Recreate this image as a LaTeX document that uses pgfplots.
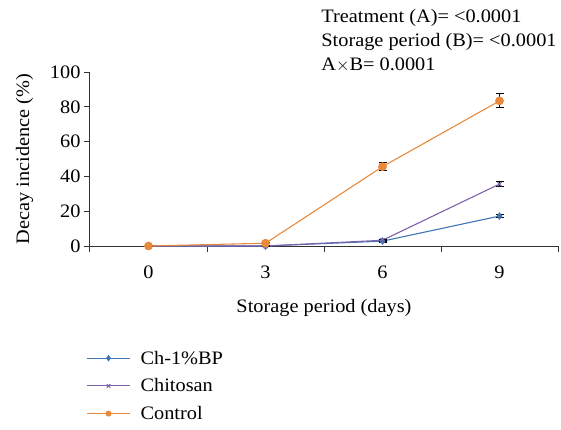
\documentclass[border=0pt]{standalone}
\usepackage{pgfplots}
\pgfplotsset{compat=1.18}
\usepackage{fontspec}
\setmainfont{Liberation Serif}[FakeStretch=1.07]
\definecolor{cblue}{HTML}{3F77B5}
\definecolor{cpurple}{HTML}{7E62A9}
\definecolor{corange}{HTML}{E8893C}
\newcommand\bigfont{\fontsize{19}{22}\selectfont}
\begin{document}
\begin{tikzpicture}
\begin{axis}[
  scale only axis,
  width=468pt, height=174pt,
  xmin=-0.5, xmax=3.5,
  ymin=0, ymax=100,
  axis lines=left,
  axis line style={-, line width=1pt, black!80},
  xtick={0,1,2,3},
  xticklabels={0,3,6,9},
  major x tick style={draw=none},
  minor xtick={-0.5,0.5,1.5,2.5,3.5},
  minor x tick style={black!80, line width=1pt},
  minor tick length=6pt,
  ytick={0,20,...,100},
  tick align=outside,
  major tick length=6pt,
  y tick style={black!80, line width=1pt},
  /pgf/number format/assume math mode=true,
  ticklabel style={font=\bigfont},
  xticklabel style={yshift=-10pt},
  label style={font=\bigfont},
  xlabel={Storage period (days)},
  ylabel={Decay incidence (\%)},
  xlabel style={yshift=-14pt},
  ylabel style={yshift=10pt},
  clip=false,
  legend cell align=left,
  legend style={draw=none, fill=none, at={(-0.008,-0.59)}, anchor=north west,
    font=\bigfont, row sep=9pt, column sep=8pt, inner sep=0pt},
  legend image code/.code={
    \draw[mark repeat=2,mark phase=2, mark size=2.4pt] plot coordinates {(0pt,0pt) (21.5pt,0pt) (43pt,0pt)};},
  every axis plot/.append style={line width=1.1pt},
]
\addplot[cblue, mark=diamond*, mark size=3pt,
  error bars/.cd, y dir=both, y explicit, error bar style={black, line width=1.1pt}, error mark options={rotate=90, mark size=4pt, black, line width=1.1pt}]
  coordinates {(0,0) +- (0,0) (1,0) +- (0,0) (2,2.8) +- (0,0.5) (3,17.2) +- (0,0.8)};
\addplot[cpurple, mark=x, mark size=3pt,
  error bars/.cd, y dir=both, y explicit, error bar style={black, line width=1.1pt}, error mark options={rotate=90, mark size=4pt, black, line width=1.1pt}]
  coordinates {(0,0) +- (0,0) (1,0) +- (0,0) (2,3.3) +- (0,0.5) (3,35.6) +- (0,1.6)};
\addplot[corange, mark=*, mark size=3.8pt,
  error bars/.cd, y dir=both, y explicit, error bar style={black, line width=1.1pt}, error mark options={rotate=90, mark size=4pt, black, line width=1.1pt}]
  coordinates {(0,0) +- (0,0) (1,1.6) +- (0,0.3) (2,45.6) +- (0,2.3) (3,83.4) +- (0,4)};
\legend{Ch-1\%BP, Chitosan, Control}
\node[anchor=base west, inner sep=0pt, font=\bigfont] at ([yshift=50pt]axis description cs:0.494,1) {Treatment (A)= <0.0001};
\node[anchor=base west, inner sep=0pt, font=\bigfont] at ([yshift=26pt]axis description cs:0.494,1) {Storage period (B)= <0.0001};
\node[anchor=base west, inner sep=0pt, font=\bigfont] at ([yshift=2pt]axis description cs:0.494,1) {A$\times$B= 0.0001};
\path (axis description cs:0,0) ++(-90pt,-183pt) coordinate (bl);
\path (axis description cs:1,1) ++(3pt,72pt) coordinate (tr);
\path[use as bounding box] (bl) rectangle (tr);
\end{axis}
\end{tikzpicture}
\end{document}
